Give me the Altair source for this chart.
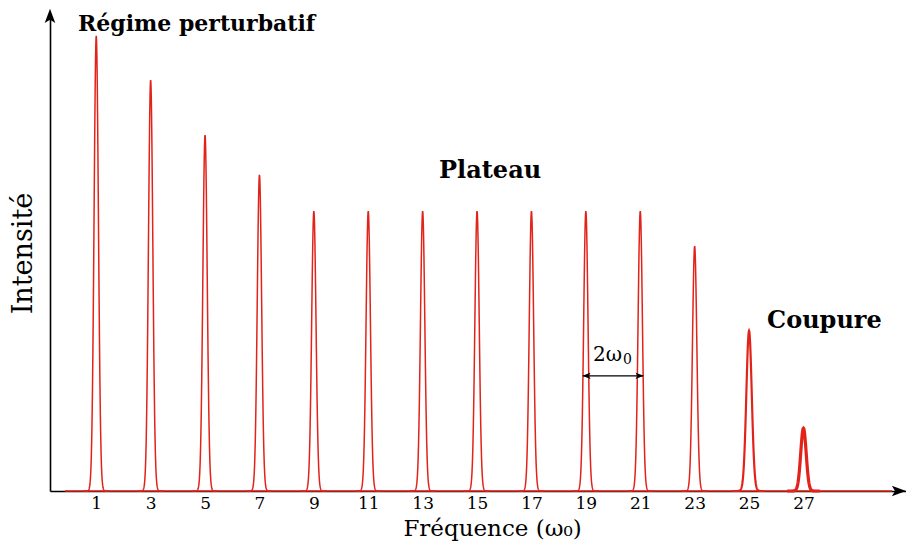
import altair as alt
import numpy as np
import pandas as pd

# --- data ---
harmonics = [1, 3, 5, 7, 9, 11, 13, 15, 17, 19, 21, 23, 25, 27]
intensity = [1.0, 0.903, 0.782, 0.695, 0.615, 0.615, 0.615, 0.615, 0.615, 0.615, 0.615, 0.538, 0.352, 0.138]
peak_sigma = [0.08, 0.08, 0.08, 0.08, 0.08, 0.08, 0.08, 0.08, 0.08, 0.08, 0.08, 0.08, 0.1, 0.1]
peak_stroke = [1.5, 1.5, 1.5, 1.5, 1.5, 1.5, 1.5, 1.5, 1.5, 1.5, 1.5, 1.5, 2.2, 3.2]
tick_values = harmonics
baseline_x = [-0.15, 30.25]

RED = "#e2231a"
SERIF = "DejaVu Serif"

# peak line shapes built from the peak heights (Gaussian profile)
rows = []
for h, a, s, w in zip(harmonics, intensity, peak_sigma, peak_stroke):
    for x in np.linspace(h - 6 * s, h + 6 * s, 121):
        rows.append({"x": float(x), "y": a * float(np.exp(-((x - h) ** 2) / (2 * s * s))), "peak": h, "w": w})
peaks_df = pd.DataFrame(rows)
base_df = pd.DataFrame({"x": baseline_x, "y": [0, 0]})

xs = alt.Scale(domain=[-0.7, 30.77], nice=False, zero=False)
ys = alt.Scale(domain=[0, 1.046], nice=False, zero=False)

x_axis = alt.Axis(values=tick_values, ticks=False, grid=False, domainColor="black", domainWidth=1.6,
                  labelFont=SERIF, labelFontSize=17, labelColor="black", labelPadding=4,
                  title="Fréquence (ω₀)", titleFont=SERIF, titleFontSize=23, titleFontWeight="normal",
                  titleColor="black", titlePadding=6, titleX=442)
y_axis = alt.Axis(labels=False, ticks=False, grid=False, domainColor="black", domainWidth=1.6,
                  title="Intensité", titleFont=SERIF, titleFontSize=27, titleFontWeight="normal",
                  titleColor="black", titlePadding=13)

base = alt.Chart(base_df).mark_line(color=RED, strokeWidth=1.5).encode(
    x=alt.X("x:Q", scale=xs, axis=x_axis),
    y=alt.Y("y:Q", scale=ys, axis=y_axis),
)

peaks = alt.Chart(peaks_df).mark_line(color=RED).encode(
    x=alt.X("x:Q", scale=xs),
    y=alt.Y("y:Q", scale=ys),
    detail="peak:N",
    strokeWidth=alt.StrokeWidth("w:Q", scale=None),
)

# axis arrowheads
arrow_path = "M-1,-0.75 L1,0 L-1,0.75 L-0.55,0 Z"
arrow_df = pd.DataFrame({"x": [30.51], "y": [0]})
x_arrow = alt.Chart(arrow_df).mark_point(shape=arrow_path, filled=True, color="black", size=200, opacity=1).encode(
    x=alt.X("x:Q", scale=xs), y=alt.Y("y:Q", scale=ys))
yarrow_df = pd.DataFrame({"x": [-0.7], "y": [1.044]})
y_arrow = alt.Chart(yarrow_df).mark_point(shape=arrow_path, filled=True, color="black", size=200, opacity=1, angle=270).encode(
    x=alt.X("x:Q", scale=xs), y=alt.Y("y:Q", scale=ys))

# annotations
title_df = pd.DataFrame({"x": [0.33], "y": [1.011], "t": ["Régime perturbatif"]})
labels_left = alt.Chart(title_df).mark_text(font=SERIF, fontSize=22, fontWeight="bold", align="left",
                                            baseline="alphabetic", color="black").encode(
    x=alt.X("x:Q", scale=xs), y=alt.Y("y:Q", scale=ys), text="t:N")
lab_df = pd.DataFrame({
    "x": [15.48, 27.77],
    "y": [0.703, 0.374],
    "t": ["Plateau", "Coupure"],
})
labels_c = alt.Chart(lab_df).mark_text(font=SERIF, fontSize=24, fontWeight="bold", align="center",
                                       baseline="middle", color="black").encode(
    x=alt.X("x:Q", scale=xs), y=alt.Y("y:Q", scale=ys), text="t:N")

spacing_df = pd.DataFrame({"x": [18.9], "x2": [21.1], "y": [0.253]})
span_rule = alt.Chart(spacing_df).mark_rule(color="black", strokeWidth=1.3).encode(
    x=alt.X("x:Q", scale=xs), x2="x2:Q", y=alt.Y("y:Q", scale=ys))
head_df = pd.DataFrame({"x": [19.02, 20.98], "y": [0.253, 0.253], "ang": [180, 0]})
span_heads = alt.Chart(head_df).mark_point(shape=arrow_path, filled=True, color="black", size=70, opacity=1).encode(
    x=alt.X("x:Q", scale=xs), y=alt.Y("y:Q", scale=ys), angle=alt.Angle("ang:Q", scale=None))
span_text = alt.Chart(pd.DataFrame({"x": [20.33], "y": [0.299], "t": ["2ω"]})).mark_text(
    font=SERIF, fontSize=20, color="black", baseline="middle", align="right").encode(
    x=alt.X("x:Q", scale=xs), y=alt.Y("y:Q", scale=ys), text="t:N")
span_sub = alt.Chart(pd.DataFrame({"x": [20.33], "y": [0.299], "t": ["0"]})).mark_text(
    font=SERIF, fontSize=14, color="black", baseline="middle", align="left", dy=5, dx=1).encode(
    x=alt.X("x:Q", scale=xs), y=alt.Y("y:Q", scale=ys), text="t:N")

chart = alt.layer(base, peaks, x_arrow, y_arrow, labels_left, labels_c, span_rule, span_heads,
                  span_text, span_sub).properties(
    width=856, height=476,
    autosize=alt.AutoSizeParams(type="none"),
    padding={"left": 42, "top": 7, "right": 0, "bottom": 52},
    background="white",
).configure_view(stroke=None)

chart.save("out.html", embed_options={"renderer": "svg", "actions": False})
